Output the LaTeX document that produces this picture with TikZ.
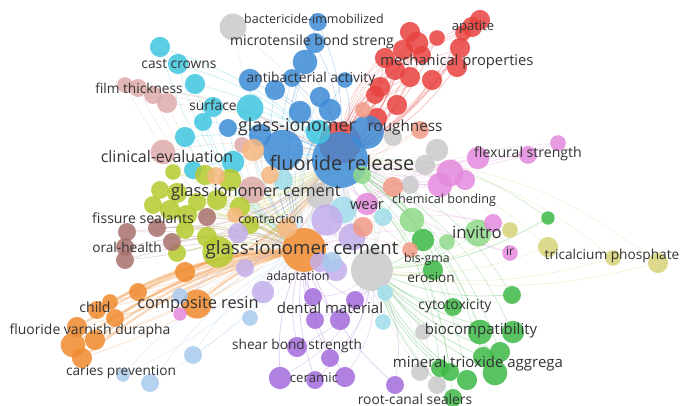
\documentclass[tikz,border=0pt]{standalone}
\usepackage{fontspec}
\setmainfont{Open Sans}
\definecolor{cR}{HTML}{E8423F}
\definecolor{cB}{HTML}{3D8BD6}
\definecolor{cC}{HTML}{3FC6DF}
\definecolor{cP}{HTML}{DDABA9}
\definecolor{cBr}{HTML}{A8706B}
\definecolor{cY}{HTML}{B5CB2E}
\definecolor{cO}{HTML}{F08A2E}
\definecolor{cLO}{HTML}{F6B880}
\definecolor{cV}{HTML}{A46BDD}
\definecolor{cL}{HTML}{C3AEEA}
\definecolor{cG}{HTML}{3DB946}
\definecolor{cLG}{HTML}{8FD98A}
\definecolor{cM}{HTML}{E48ADD}
\definecolor{cGr}{HTML}{C9C9CB}
\definecolor{cS}{HTML}{F29A86}
\definecolor{cLB}{HTML}{A9C9EE}
\definecolor{cLC}{HTML}{9FDDEB}
\definecolor{cT}{HTML}{D6D37A}
\definecolor{txt}{HTML}{333333}
\pgfdeclarelayer{bg}
\pgfsetlayers{bg,main}
\tikzset{bub/.style={circle,inner sep=0pt,fill=#1,fill opacity=.85,draw=none},
	link/.style={draw=#1,draw opacity=.3},
	lbl/.style={text=txt,inner sep=0pt}}
\begin{document}
\begin{tikzpicture}[x=0.02646cm,y=-0.02646cm,line cap=round]
	\begin{pgfonlayer}{bg}
		\fill[white] (0,0) rectangle (681,406);
	\end{pgfonlayer}
	\useasboundingbox (0,0) rectangle (681,406);
	\node[bub=cR,minimum size=21*0.529mm] (hubR) at (340,143) {};
	\node[bub=cB,minimum size=28*0.529mm] (hubF) at (340,160) {};
	\node[bub=cO,minimum size=22*0.529mm] (hubG) at (304,250) {};
	\node[bub=cGr,minimum size=21*0.529mm] (hubW) at (372,270) {};
	% clusters: colour / targets / link width / bubbles x/y/r
	\foreach \c/\t/\u/\w/\pts in {
		cR/hubF/hubR/.6/{480/20/9,472/27/9,463/33/7,437/38/7,410/32/9,417/43/10,403/50/9,385/58/9,422/55/8,395/70/9,410/77/9,432/80/9,460/48/9,457/67/9,380/87/9,375/95/8,397/105/9,377/118/9},
		cB/hubF/hubG/.5/{318/22/8,315/43/9,305/62/11,292/78/8,250/80/10,275/90/9,320/97/9,300/112/10,330/110/10,228/128/8,283/150/18,367/132/15,260/135/10,345/80/7},
		cGr/hubF/hubW/.5/{233/27/12,423/332/7,420/372/8,437/385/8,437/150/10,425/165/9,393/137/8,320/196/12,410/185/8},
		cC/hubF/hubG/.5/{160/47/9,178/64/9,195/84/9,213/107/9,203/122/8,185/137/9,250/108/12,193/170/8,233/162/10,318/132/11},
		cLC/hubF/hubW/.5/{385/293/7,383/322/7,383/217/8,343/210/12,283/180/9},
		cP/hubF/hubG/.5/{125/85/7,138/88/8,153/95/8,167/103/9,163/152/11,242/145/7,252/190/12},
		cY/hubG/hubF/.5/{173/172/7,160/190/8,177/193/9,153/205/8,170/210/9,187/215/9,197/202/8,217/200/9,230/180/10,240/207/9,207/237/9,177/253/8,218/252/14,205/175/9,250/225/8,185/230/8},
		cBr/hubG/hubF/.5/{127/232/8,125/247/8,125/260/8,157/228/8,172/242/8,207/217/8},
		cO/hubG/hubF/1.8/{185/272/9,138/292/8,197/304/13,97/310/8,115/318/8,77/327/9,95/340/9,73/345/11,82/358/9,110/302/7},
		cLO/hubF/hubG/.5/{253/150/10,270/175/8,216/176/8,235/215/7,287/228/9},
		cL/hubG/hubF/.5/{263/292/10,245/268/8,327/220/14,352/237/12,336/270/10,320/262/9,238/233/9},
		cV/hubG/hubW/.6/{313/297/8,315/320/8,340/320/9,297/347/9,330/358/8,280/378/10,315/380/8,345/377/9,395/385/8,355/300/8},
		cLB/hubG/hubF/.5/{250/318/7,193/355/8,150/383/8,123/375/6,180/296/7,332/262/9},
		cG/hubW/hubF/.6/{548/218/6,423/240/10,433/270/9,512/295/8,453/307/8,480/332/11,513/332/10,500/352/9,483/357/9,495/373/11,467/380/9,450/372/8,440/368/8,453/398/8},
		cLG/hubW/hubF/.5/{478/233/12,447/242/7,412/220/11,362/175/8},
		cM/hubF/hubG/.5/{558/143/7,528/155/8,478/158/10,450/173/12,440/185/11,465/180/9,367/204/10,510/253/7,493/223/8,180/314/6},
		cT/hubW/hubF/.5/{510/230/7,548/247/9,613/258/7,658/263/9},
		cS/hubF/hubG/.5/{363/110/7,393/187/9,363/227/9,410/250/7,420/130/8}}{
		\foreach \x/\y/\r [count=\i] in \pts {
			\node[bub=\c,minimum size=\r*0.593mm] (\c-\i) at (\x,\y) {};
			\begin{pgfonlayer}{bg}
				\draw[link=\c,line width=\w pt] (\c-\i) to[bend left=12] (\t);
				\draw[link=\c,line width=.4pt] (\c-\i) to[bend right=18] (\u);
			\end{pgfonlayer}
		}
	}
	% labels
	\foreach \x/\y/\s/\n/\t in {
		314/19/9.4/bact/bactericide-immobilized,
		312/42/10.6/micro/microtensile bond streng,
		473/27/9.8/apat/apatite,
		179/64/10.4/cast/cast crowns,
		457/62/11.1/mech/mechanical properties,
		311/79/10.4/anti/antibacterial activity,
		139/88/10.3/film/film thickness,
		213/105/10.4/surf/surface,
		297/127/13.4/gi/glass-ionomer,
		405/128/11.5/rough/roughness,
		167/157/12/clin/clinical-evaluation,
		342/163/15/fluor/fluoride release,
		528/154/10.6/flex/flexural strength,
		256/192/12.4/gic/glass ionomer cement,
		367/206/11.1/wear/wear,
		444/200/9.5/chem/chemical bonding,
		143/218/10.6/fiss/fissure sealants,
		271/219/9.3/contr/contraction,
		477/232/12.6/invit/invitro,
		127/247/10.3/oral/oral-health,
		302/250/14/gicb/glass-ionomer cement,
		612/256/10.3/trical/tricalcium phosphate,
		427/259/9.3/bis/bis-gma,
		510/251/9/ir/ir,
		298/277/9.4/adapt/adaptation,
		431/278/10.2/eros/erosion,
		95/307/10.6/child/child,
		198/304/12.3/comp/composite resin,
		330/308/11.3/dent/dental material,
		455/306/10.5/cyto/cytotoxicity,
		481/331/11.3/bioc/biocompatibility,
		90/331/10.5/varn/fluoride varnish durapha,
		297/346/10.3/shear/shear bond strength,
		478/364/11.3/mta/mineral trioxide aggrega,
		121/372/10.3/caries/caries prevention,
		314/378/10/ceram/ceramic,
		415/399/10.4/root/root-canal sealers}{
		\node[lbl,font=\fontsize{\s}{\s}\selectfont] (\n) at (\x,\y) {\t};
	}
\end{tikzpicture}
\end{document}
